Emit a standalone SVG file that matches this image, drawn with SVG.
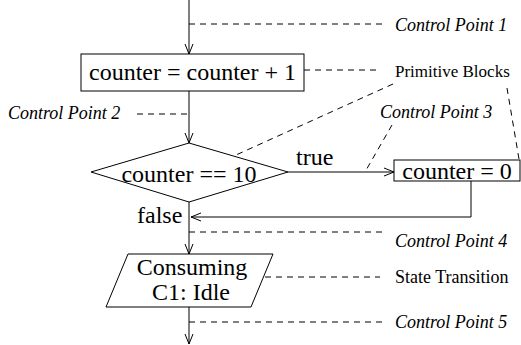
<svg xmlns="http://www.w3.org/2000/svg" width="521" height="345" viewBox="0 0 521 345">
<style>
.ln{fill:none;stroke:#000;stroke-width:1}
.ds{fill:none;stroke:#000;stroke-width:1;stroke-dasharray:6 5}
.sh{fill:#fff;stroke:#000;stroke-width:1}
.big{font-family:"Liberation Serif","Times New Roman",serif;font-size:24px;fill:#000}
.it{font-family:"Liberation Serif","Times New Roman",serif;font-size:18px;font-style:italic;fill:#000}
.nm{font-family:"Liberation Serif","Times New Roman",serif;font-size:17px;fill:#000}
</style>
<defs>
<marker id="arr" markerWidth="12" markerHeight="10" refX="11" refY="5" orient="auto" markerUnits="userSpaceOnUse">
<path d="M1,1 L11,5 L1,9" fill="none" stroke="#000" stroke-width="1"/>
</marker>
</defs>
<g id="connectors">
<line class="ln" x1="189" y1="0" x2="189" y2="54" marker-end="url(#arr)"/>
<line class="ln" x1="189" y1="91" x2="189" y2="143" marker-end="url(#arr)"/>
<line class="ln" x1="288" y1="172" x2="394" y2="172" marker-end="url(#arr)"/>
<polyline class="ln" points="471,181 471,217 191,217" marker-end="url(#arr)"/>
<line class="ln" x1="189" y1="202" x2="189" y2="254" marker-end="url(#arr)"/>
<line class="ln" x1="189" y1="307" x2="189" y2="344" marker-end="url(#arr)"/>
<text class="big" x="296" y="165">true</text>
<text class="big" x="137" y="223">false</text>
</g>
<g id="annotations">
<line class="ds" x1="189" y1="24" x2="387" y2="24"/>
<line class="ds" x1="304" y1="70" x2="380" y2="70"/>
<line class="ds" x1="393" y1="84" x2="236" y2="155"/>
<line class="ds" x1="507" y1="88" x2="519" y2="159"/>
<line class="ds" x1="137" y1="114" x2="189" y2="114"/>
<line class="ds" x1="392" y1="125" x2="365" y2="172"/>
<line class="ds" x1="189" y1="232" x2="387" y2="232"/>
<line class="ds" x1="265" y1="277" x2="380" y2="277"/>
<line class="ds" x1="189" y1="322" x2="387" y2="322"/>
<text class="it" x="395" y="31">Control Point 1</text>
<text class="nm" x="395" y="77">Primitive Blocks</text>
<text class="it" x="8" y="119">Control Point 2</text>
<text class="it" x="380" y="118">Control Point 3</text>
<text class="it" x="395" y="247">Control Point 4</text>
<text class="nm" x="395" y="283" style="font-size:18px">State Transition</text>
<text class="it" x="395" y="328">Control Point 5</text>
</g>
<g id="box1">
<rect class="sh" x="81" y="54" width="223" height="37"/>
<text class="big" x="192.5" y="80" text-anchor="middle">counter = counter + 1</text>
</g>
<g id="decision">
<polygon class="sh" points="189,143 288,172 189,202 91,172"/>
<text class="big" x="189" y="182" text-anchor="middle">counter == 10</text>
</g>
<g id="box2">
<rect class="sh" x="394" y="160" width="126" height="21"/>
<text class="big" x="457" y="179" text-anchor="middle">counter = 0</text>
</g>
<g id="state">
<polygon class="sh" points="128,254 273,254 251,307 106,307"/>
<text class="big" x="192" y="275" text-anchor="middle">Consuming</text>
<text class="big" x="191" y="300" text-anchor="middle">C1: Idle</text>
</g>
</svg>
